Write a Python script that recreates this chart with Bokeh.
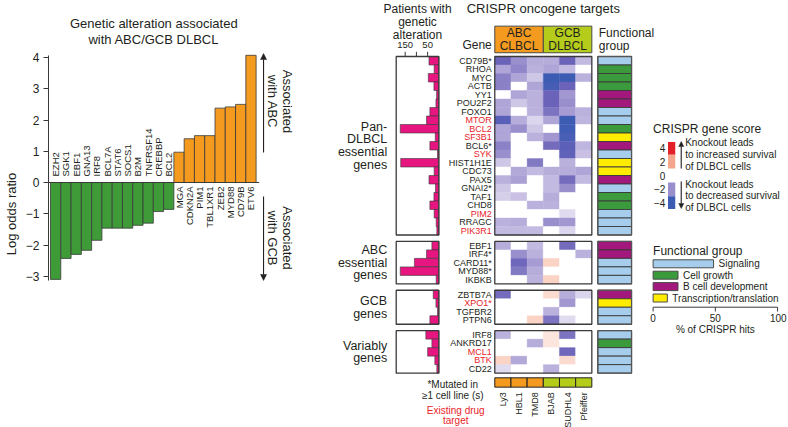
import numpy as np
from bokeh.plotting import figure
from bokeh.models import (Range1d, LinearAxis, FixedTicker, Arrow, NormalHead,
                          ColumnDataSource, LinearColorMapper, CategoricalColorMapper)
from bokeh.core.properties import value
from bokeh.embed import file_html
from bokeh.resources import INLINE

# ---------------------------------------------------------------- data
alt_genes = ["EZH2", "SGK1", "EBF1", "GNA13", "IRF8", "BCL7A", "STAT6", "SOCS1", "B2M",
             "TNFRSF14", "CREBBP", "BCL2", "MGA", "CDKN2A", "PIM1", "TBL1XR1", "ZEB2",
             "MYD88", "CD79B", "ETV6"]
alt_log_odds = [-3.10, -2.43, -2.30, -2.17, -1.85, -1.46, -1.46, -1.46, -1.37, -1.30,
                -0.93, -0.86, 0.97, 1.40, 1.50, 1.50, 2.38, 2.42, 2.50, 4.07]
log_odds_ticks = [-3, -2, -1, 0, 1, 2, 3, 4]

group_labels = ["Pan-\nDLBCL\nessential\ngenes", "ABC\nessential\ngenes", "GCB\ngenes", "Variably\ngenes"]
group_sizes = [21, 5, 4, 5]
crispr_genes = ["CD79B*", "RHOA", "MYC", "ACTB", "YY1", "POU2F2", "FOXO1", "MTOR", "BCL2",
                "SF3B1", "BCL6*", "SYK", "HIST1H1E", "CDC73", "PAX5", "GNAI2*", "TAF1", "CHD8",
                "PIM2", "RRAGC", "PIK3R1",
                "EBF1", "IRF4*", "CARD11*", "MYD88*", "IKBKB",
                "ZBTB7A", "XPO1*", "TGFBR2", "PTPN6",
                "IRF8", "ANKRD17", "MCL1", "BTK", "CD22"]
drug_targets = ["MTOR", "BCL2", "SF3B1", "SYK", "PIM2", "PIK3R1", "XPO1*", "MCL1", "BTK"]
patients_altered = [44, 21, 47, 22, 10, 13, 40, 55, 172, 16, 40, 6, 170, 21, 44, 15, 22, 40, 21, 12, 9,
                    31, 55, 109, 172, 12,
                    25, 13, 6, 40,
                    58, 31, 50, 18, 9]
patient_ticks = [150, 100, 50]
patient_tick_labels = ["150", "", "50"]

func_groups = ["Signaling", "Cell growth", "B cell development", "Transcription/translation"]
SIG, GRO, BDV, TRX = func_groups
func_group = [SIG, GRO, GRO, GRO, BDV, BDV, SIG, SIG, GRO, TRX, BDV, SIG, TRX, TRX, BDV, SIG,
              GRO, GRO, SIG, SIG, SIG,
              BDV, BDV, SIG, SIG, SIG,
              BDV, TRX, SIG, SIG,
              SIG, GRO, SIG, SIG, SIG]

cell_lines = ["Ly3", "HBL1", "TMD8", "BJAB", "SUDHL4", "Pfeiffer"]
cell_line_subtype = ["ABC", "ABC", "ABC", "GCB", "GCB", "GCB"]
subtypes = ["ABC", "GCB"]
subtype_titles = ["ABC\nCLBCL", "GCB\nDLBCL"]

score_Ly3 = [-3.0, -1.5, -2.3, -2.3, 0, -1.5, -1.5, -3.4, -1.5, -1.5, -2.3, -2.0, -0.8, 0, -1.2, -0.8,
             -0.7, 0, 0, -1.2, -1.0,
             -1.3, 0, 0, 0, 0,
             -2.8, 0, 0, 0,
             -1.2, 0, 0, 1.0, -0.5]
score_HBL1 = [-2.0, -2.2, -1.5, 0, -1.5, -0.8, 0, -1.3, -2.0, 0, 0, 0, 0, -1.4, -1.6, 0,
              -0.9, 0, 0, -1.3, -1.0,
              0, -2.0, -2.9, -2.5, 0,
              0, 0, 0, 0,
              0, 0, 0, -1.4, 0]
score_TMD8 = [-1.3, -1.2, -0.8, -1.5, -1.2, -1.2, -1.2, -0.6, -0.8, -1.2, 0, 0, -2.5, -1.0, 0, 0,
              0, -1.2, 0, 0, -1.0,
              -1.0, -1.2, -1.7, -1.3, -1.2,
              0, 0, 0, 1.0,
              0, -1.3, 0, 0, 0]
score_BJAB = [-1.3, -1.5, -4.0, -3.8, -3.0, -3.0, -2.6, -1.5, 0, -1.8, -2.8, 0, 0, -1.3, -1.0, -1.0,
              -1.3, -1.2, 0, -2.0, 0,
              0, 0, 1.0, 0, 1.0,
              0.8, 0, -1.2, -2.6,
              0.6, 0.6, 0, 0, -1.2]
score_SUDHL4 = [-3.0, -1.0, -4.0, -3.0, -1.8, -2.0, -1.7, -4.0, -3.9, -3.7, -3.3, -3.2, -1.2, -1.3, -2.8, -2.0,
                0, 0, -0.5, -1.8, -0.6,
                -2.8, 0, 0, 0, 0,
                -1.3, -1.8, 0, -0.5,
                -2.6, 0, -2.9, 0.8, 0]
score_Pfeiffer = [-1.0, 0, -1.2, 0, 0, 0, -1.2, -1.1, 0, 0, -1.1, -0.9, 0, -1.5, -1.0, 0,
                  0, 0, 0, 0, 0,
                  0, -1.2, 0, 0, 0,
                  -0.6, 0, 0, 0,
                  0, 0, 0, 0, 0]
scores = [score_Ly3, score_HBL1, score_TMD8, score_BJAB, score_SUDHL4, score_Pfeiffer]
score_legend_ticks = [4, 2, 0, -2, -4]
pct_ticks = [0, 50, 100]

# ---------------------------------------------------------------- style
FONT = "Liberation Sans"
INK = "#231F20"
RED = "#E8242B"
ORANGE = "#F39A1F"
GREEN = "#3E9B38"
LIME = "#B5CC1B"
PINK = "#E6157F"
EDGE = "#3A3A3A"
FG_COLORS = ["#A6CEEC", "#3A9A3C", "#A2187C", "#FFEC00"]

score_anchors = [(-4, "#3B5CB4"), (-3, "#6A62B9"), (-2, "#9A8FCD"), (-1, "#C3BAE1"),
                 (-0.3, "#ECE8F5"), (0, "#FFFFFF"), (1, "#FAD3C4"), (2, "#F3A68C"),
                 (3, "#EC6B55"), (4, "#E31F27")]


def make_palette(n=257):
    vs = [a[0] for a in score_anchors]
    rgb = np.array([[int(c[k:k + 2], 16) for k in (1, 3, 5)] for _, c in score_anchors], float)
    centers = -4 + (np.arange(n) + 0.5) * 8.0 / n
    out = []
    for v in centers:
        r, g, b = (np.interp(v, vs, rgb[:, k]) for k in range(3))
        out.append("#%02x%02x%02x" % (int(round(r)), int(round(g)), int(round(b))))
    return out


# ---------------------------------------------------------------- layout
W, H = 788, 427
FX0, FX1, FY0, FY1 = 43, 788, 0, 427   # plotting frame edges in page pixels


def lin(pa, va, pb, vb, horizontal=True):
    s = (vb - va) / (pb - pa)
    if horizontal:
        return Range1d(start=va + (FX0 - pa) * s, end=va + (FX1 - pa) * s)
    return Range1d(start=va + (FY1 - pa) * s, end=va + (FY0 - pa) * s)


p = figure(width=W, height=H, x_range=lin(50.2, 0, 60.55, 1), y_range=lin(182, 0, 150.75, 1, False),
           x_axis_type=None, y_axis_type=None, output_backend="svg", toolbar_location=None,
           min_border_left=FX0, min_border_right=0, min_border_top=0, min_border_bottom=0,
           outline_line_color=None, background_fill_color="white", border_fill_color="white")
p.extra_x_ranges = {"px": Range1d(FX0, FX1), "hm": lin(492.3, 0, 590, 6), "pat": lin(436, 0, 413.4, 100),
                    "fg": lin(596, 0, 630, 1), "leg": lin(651.7, 0, 777, 100)}
p.extra_y_ranges = {"px": Range1d(FY1, FY0), "rows": lin(56, 0, 64.5, 1, False),
                    "score": lin(175, 0, 168.1, 1, False)}


def T(x, y, text, size, xr="px", yr="px", align="center", baseline="middle", color=INK,
      angle=0.0, lh=1.1, xo=0, yo=0):
    texts = list(text) if isinstance(text, (list, tuple)) else [text]
    n = len(texts)
    xs = list(x) if isinstance(x, (list, tuple, np.ndarray)) else [x] * n
    ys = list(y) if isinstance(y, (list, tuple, np.ndarray)) else [y] * n
    cs = list(color) if isinstance(color, list) else [color] * n
    src = ColumnDataSource(dict(x=xs, y=ys, text=texts, c=cs))
    p.text(x="x", y="y", text="text", text_color="c", source=src, text_font=value(FONT),
           text_font_size=f"{size}px", text_align=align, text_baseline=baseline, angle=angle,
           text_line_height=lh, x_offset=xo, y_offset=yo, x_range_name=xr, y_range_name=yr)


def arrow(x, y0, y1, size=6):
    p.add_layout(Arrow(end=NormalHead(size=size, fill_color=INK, line_color=INK, line_width=0.5),
                       x_start=x, y_start=y0, x_end=x, y_end=y1, line_color=INK, line_width=1.1,
                       x_range_name="px", y_range_name="px"))


# ================================================================ left panel
n_alt = len(alt_genes)
xs = list(range(n_alt))
assoc = ["GCB" if v < 0 else "ABC" for v in alt_log_odds]
assoc_cmap = CategoricalColorMapper(factors=["ABC", "GCB"], palette=[ORANGE, GREEN])
p.vbar(x="x", top="top", bottom=0, width=1, source=ColumnDataSource(dict(x=xs, top=alt_log_odds, a=assoc)),
       fill_color={"field": "a", "transform": assoc_cmap}, line_color=EDGE, line_width=0.8)
p.segment(x0=[p.x_range.start], y0=[0], x1=[n_alt - 0.5 + 0.3], y1=[0], line_color=EDGE, line_width=1)

neg = [i for i, v in enumerate(alt_log_odds) if v < 0]
pos = [i for i, v in enumerate(alt_log_odds) if v >= 0]
T(neg, 0, [alt_genes[i] for i in neg], 9.5, xr="default", yr="default", align="left",
  angle=np.pi / 2, yo=-6)
T(pos, 0, [alt_genes[i] for i in pos], 9.5, xr="default", yr="default", align="right",
  angle=np.pi / 2, yo=4)

ax = LinearAxis(ticker=FixedTicker(ticks=log_odds_ticks),
                bounds=(min(log_odds_ticks) - 0.13, max(log_odds_ticks) + 0.06),
                major_label_overrides={t: str(t).replace("-", "\u2212") for t in log_odds_ticks},
                axis_label="Log odds ratio", axis_label_text_font=FONT, axis_label_text_font_size="13px",
                axis_label_text_font_style="normal", axis_label_text_color=INK, axis_label_standoff=4,
                major_label_text_font=FONT, major_label_text_font_size="12px", major_label_text_color=INK,
                major_label_standoff=4, major_tick_out=5, major_tick_in=0, minor_tick_out=0, minor_tick_in=0,
                axis_line_color=EDGE, major_tick_line_color=EDGE)
p.add_layout(ax, "left")

T(149, 31, "Genetic alteration associated\nwith ABC/GCB DLBCL", 13, lh=1.1)
arrow(259.5, 152, 53)
arrow(259.5, 196, 280)
T(276.5, 101, "Associated\nwith ABC", 13, angle=-np.pi / 2, lh=1.0)
T(276.5, 237.5, "Associated\nwith GCB", 13, angle=-np.pi / 2, lh=1.0)

# ================================================================ right panel
GAP = 0.75
ycent, tops, bottoms = [], [], []
cur = 0.0
for g, size in enumerate(group_sizes):
    if g:
        cur += GAP
    tops.append(cur)
    ycent += [cur + k + 0.5 for k in range(size)]
    cur += size
    bottoms.append(cur)
gcent = [(a + b) / 2 for a, b in zip(tops, bottoms)]
n_lines = len(cell_lines)

# heatmap
hx, hy, hv = [], [], []
for j, col in enumerate(scores):
    for i, v in enumerate(col):
        hx.append(j + 0.5)
        hy.append(ycent[i])
        hv.append(v)
mapper = LinearColorMapper(palette=make_palette(), low=-4, high=4)
p.rect(x="x", y="y", width=1, height=1, source=ColumnDataSource(dict(x=hx, y=hy, v=hv)),
       fill_color={"field": "v", "transform": mapper}, line_color={"field": "v", "transform": mapper},
       line_width=0.4, x_range_name="hm", y_range_name="rows")
p.quad(left=0, right=n_lines, top=tops, bottom=bottoms, fill_color=None, line_color=EDGE,
       line_width=1.3, x_range_name="hm", y_range_name="rows")

# subtype header and bottom strip
sub_cmap = CategoricalColorMapper(factors=subtypes, palette=[ORANGE, LIME])
s_left = [cell_line_subtype.index(s) for s in subtypes]
s_right = [len(cell_line_subtype) - cell_line_subtype[::-1].index(s) for s in subtypes]
HDR_TOP, HDR_BOT = -3.57, -0.44
p.quad(left="l", right="r", top=HDR_TOP, bottom=HDR_BOT,
       source=ColumnDataSource(dict(l=s_left, r=s_right, s=subtypes)),
       fill_color={"field": "s", "transform": sub_cmap}, line_color="#4A4A4A", line_width=1,
       x_range_name="hm", y_range_name="rows")
T([(a + b) / 2 for a, b in zip(s_left, s_right)], (HDR_TOP + HDR_BOT) / 2, subtype_titles, 12,
  xr="hm", yr="rows", lh=0.98)

STRIP_TOP, STRIP_BOT = 37.8, 38.9
p.quad(left="l", right="r", top=STRIP_TOP, bottom=STRIP_BOT,
       source=ColumnDataSource(dict(l=list(range(n_lines)), r=list(range(1, n_lines + 1)), s=cell_line_subtype)),
       fill_color={"field": "s", "transform": sub_cmap}, line_color="#222222", line_width=1,
       x_range_name="hm", y_range_name="rows")
T([j + 0.5 for j in range(n_lines)], STRIP_BOT, cell_lines, 9, xr="hm", yr="rows", align="right",
  angle=np.pi / 2, yo=5)

# gene labels
T(0, ycent, crispr_genes, 9, xr="hm", yr="rows", align="right", xo=-3,
  color=[RED if g in drug_targets else INK for g in crispr_genes])
T(0, -1.3, "Gene", 12, xr="hm", yr="rows", align="right", xo=-3)
T(n_lines / 2, 8, "CRISPR oncogene targets", 13, xr="hm", yr="px")

# patients with genetic alteration
PAT_MAX = 190
p.hbar(y=ycent, left=patients_altered, right=0, height=1, fill_color=PINK, line_color=EDGE,
       line_width=0.6, x_range_name="pat", y_range_name="rows")
p.quad(left=PAT_MAX, right=0, top=tops, bottom=bottoms, fill_color=None, line_color=EDGE,
       line_width=1.3, x_range_name="pat", y_range_name="rows")
p.segment(x0=patient_ticks, y0=[-0.55] * 3, x1=patient_ticks, y1=[0] * 3, line_color=EDGE,
          line_width=1, x_range_name="pat", y_range_name="rows")
T(patient_ticks, -1.3, patient_tick_labels, 9.5, xr="pat", yr="rows")
T(PAT_MAX / 2, 21.3, "Patients with\ngenetic\nalteration", 12, xr="pat", yr="px", lh=0.95)
T(PAT_MAX, gcent, group_labels, 12.5, xr="pat", yr="rows", align="right", xo=-9, lh=0.9)

# functional group column
fg_cmap = CategoricalColorMapper(factors=func_groups, palette=FG_COLORS)
p.quad(left=0, right=1, top="t", bottom="b",
       source=ColumnDataSource(dict(t=[y - 0.5 for y in ycent], b=[y + 0.5 for y in ycent], g=func_group)),
       fill_color={"field": "g", "transform": fg_cmap}, line_color=EDGE, line_width=0.9,
       x_range_name="fg", y_range_name="rows")
p.quad(left=0, right=1, top=tops, bottom=bottoms, fill_color=None, line_color="#555555",
       line_width=1.3, x_range_name="fg", y_range_name="rows")
T(0, 38.8, "Functional\ngroup", 12, xr="fg", yr="px", align="left", xo=1, lh=0.95)

# notes
T(450, 389.5, "*Mutated in\n\u22651 cell line (s)", 10, lh=1.0)
T(453, 415, "Existing drug\ntarget", 10, color=RED, lh=0.95)

# ---------------- CRISPR gene score legend
T(651.7, 128, "CRISPR gene score", 12, align="left")
blk = [t for t in score_legend_ticks if t != 0]
blk_src = ColumnDataSource(dict(t=blk,
                                top=[float(np.clip(t + 1, -4.85, 4.85)) for t in blk],
                                bot=[float(np.clip(t - 1, -4.85, 4.85)) for t in blk]))
p.quad(left=666.7, right=674, top="top", bottom="bot", source=blk_src,
       fill_color={"field": "t", "transform": mapper}, line_color=None,
       x_range_name="px", y_range_name="score")
T(664, score_legend_ticks, [str(t).replace("-", "\u2212") for t in score_legend_ticks], 10,
  xr="px", yr="score", align="right")
arrow(680, 168, 141, size=5)
arrow(680, 181, 208, size=5)
T(684, 154.2, "Knockout leads\nto increased survival\nof DLBCL cells", 10, align="left", lh=1.08)
T(684, 195.5, "Knockout leads\nto decreased survival\nof DLBCL cells", 10, align="left", lh=1.08)

# ---------------- functional group legend
T(651.7, 250, "Functional group", 12, align="left")
pct = [100.0 * func_group.count(g) / len(func_group) for g in func_groups]
ly = [263.3 + 11.4 * k for k in range(len(func_groups))]
p.quad(left=0, right="r", top="t", bottom="b",
       source=ColumnDataSource(dict(r=pct, t=[y - 4 for y in ly], b=[y + 4 for y in ly], g=func_groups)),
       fill_color={"field": "g", "transform": fg_cmap}, line_color="#4A4A4A", line_width=1,
       x_range_name="leg", y_range_name="px")
T(pct, ly, func_groups, 10, xr="leg", yr="px", align="left", xo=5)
p.segment(x0=[pct_ticks[0]], y0=[306.7], x1=[pct_ticks[-1]], y1=[306.7], line_color=EDGE,
          line_width=1, x_range_name="leg", y_range_name="px")
p.segment(x0=pct_ticks, y0=[306.7] * 3, x1=pct_ticks, y1=[311] * 3, line_color=EDGE,
          line_width=1, x_range_name="leg", y_range_name="px")
T(pct_ticks[:-1], 317, [str(t) for t in pct_ticks[:-1]], 10, xr="leg", yr="px")
T(pct_ticks[-1], 317, str(pct_ticks[-1]), 10, xr="leg", yr="px", align="right", xo=9)
T(50, 329, "% of CRISPR hits", 10, xr="leg", yr="px")

open("out.html", "w").write(file_html(p, INLINE, "CRISPR oncogene targets"))
